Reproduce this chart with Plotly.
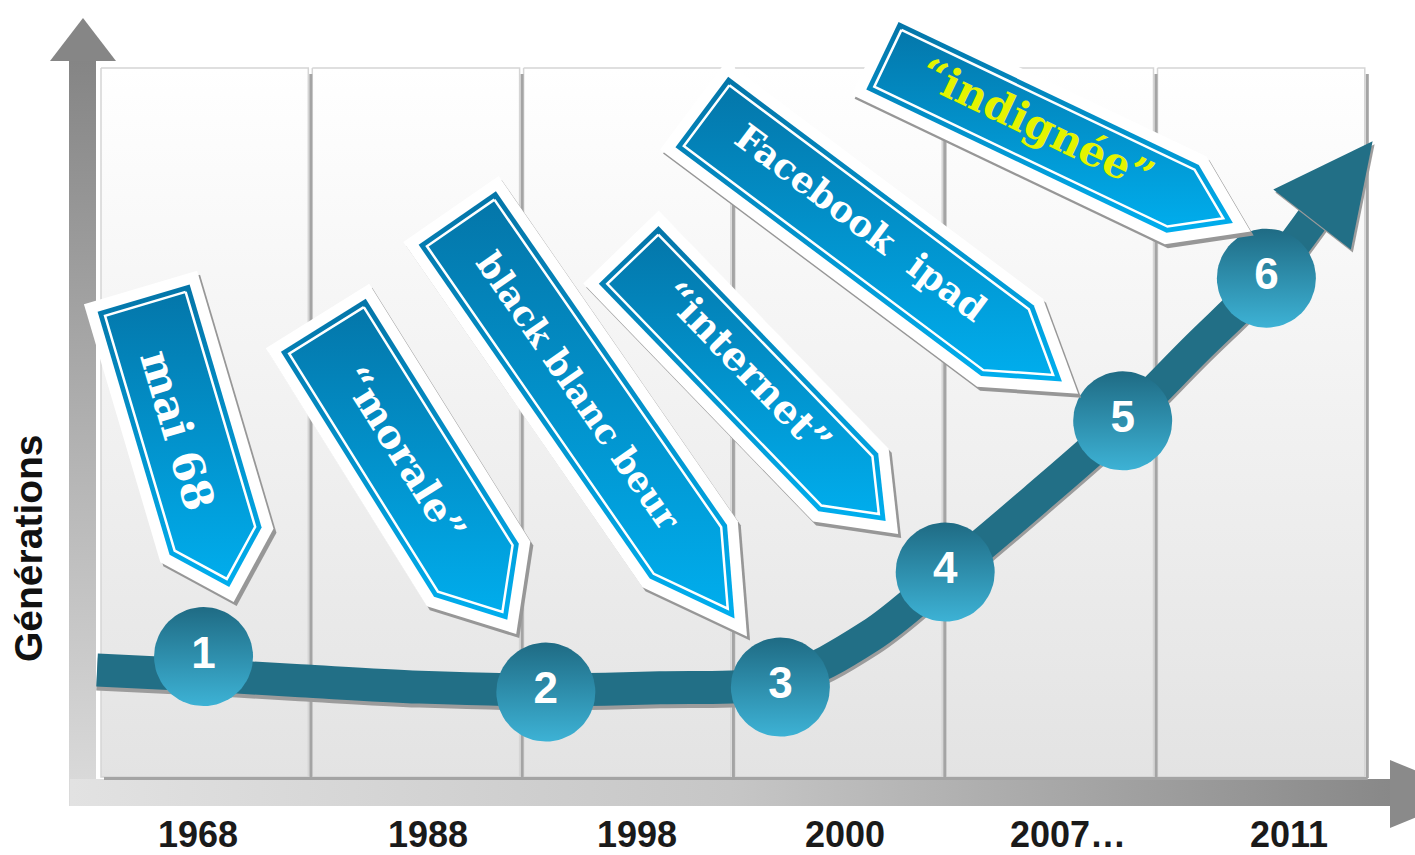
import math
import plotly.graph_objects as go

# ---------------- data ----------------
generations = [1, 2, 3, 4, 5, 6]
years = ["1968", "1988", "1998", "2000", "2007…", "2011"]
labels = ["mai 68", "“morale”", "black blanc beur", "“internet”", "Facebook  ipad", "“indignée”"]
label_colors = ["#ffffff", "#ffffff", "#ffffff", "#ffffff", "#ffffff", "#e4f400"]
axis_title = "Générations"

# generation markers: position along the time axis (column units) and level
gen_x = [0.49, 2.11, 3.22, 4.00, 4.84, 5.52]
gen_level = [1.71, 1.21, 1.28, 2.90, 5.03, 7.04]

# growth curve (column units, level)
curve_x = [-0.014, 0.473, 0.947, 1.514, 2.111, 2.650, 3.218, 3.644, 3.999, 4.425, 4.837, 5.182, 5.514, 5.745]
curve_level = [1.52, 1.45, 1.37, 1.28, 1.24, 1.27, 1.37, 2.00, 2.85, 3.92, 5.00, 6.03, 7.01, 7.90]

n_cols = 6

# ---------------- layout / geometry helpers ----------------
W, H = 1415, 855
X0, SX = 100.0, 211.3   # pixel x of column 0, px per column
Y0, SY = 778.0, 71.0    # pixel y of level 0, px per level


def to_x(px):
    return (px - X0) / SX


def to_y(py):
    return (Y0 - py) / SY


def px_x(x):
    return X0 + SX * x


def px_y(l):
    return Y0 - SY * l


def poly(pts):
    xs = [to_x(p[0]) for p in pts] + [to_x(pts[0][0])]
    ys = [to_y(p[1]) for p in pts] + [to_y(pts[0][1])]
    return xs, ys


def pentagon(c, ang, L, Wd, tip, inset=0.0):
    a = math.radians(ang)
    u = (math.cos(a), math.sin(a))
    v = (-math.sin(a), math.cos(a))
    th = math.atan((Wd / 2) / tip)
    h = Wd / 2 - inset
    top = (c[0] + u[0] * inset, c[1] + u[1] * inset)
    Ln = L - inset / math.sin(th)
    tl = h / math.tan(th)

    def P(t, s, base=c):
        return (base[0] + u[0] * t + v[0] * s, base[1] + u[1] * t + v[1] * s)
    return [P(0, -h, top), P(0, h, top), P(Ln - tl, h), P(Ln, 0), P(Ln - tl, -h)]


# banner frames: top-centre (px), axis angle, length, width, tip length, text placement, font size
banner_geom = [
    dict(top=(140.5, 287.5), ang=73.5, L=328, W=118, tip=59, ta=148, ts=5, fs=43),
    dict(top=(317.5, 316.0), ang=58.0, L=375, W=122, tip=71, ta=163, ts=0, fs=39),
    dict(top=(451.0, 209.0), ang=55.3, L=520, W=116, tip=100, ta=222, ts=-1, fs=35),
    dict(top=(621.0, 247.0), ang=46.0, L=399, W=105, tip=68, ta=175, ts=-7, fs=39),
    dict(top=(693.0, 105.5), ang=36.8, L=481, W=110, tip=85, ta=204, ts=-7, fs=36),
    dict(top=(872.5, 51.0), ang=25.5, L=419, W=97, tip=72, ta=180, ts=-4, fs=42),
]

year_offsets = [-8, 11, 9, 5, 17, 27]

fig = go.Figure()
skip = dict(hoverinfo="skip", showlegend=False)

# ---- axes arrows (background) ----
xs, ys = poly([(69, 61), (96, 61), (96, 806), (69, 806)])
fig.add_trace(go.Scatter(x=xs, y=ys, mode="lines", fill="toself", line=dict(width=0),
                         fillgradient=dict(type="vertical",
                                           colorscale=[[0, "#dcdcdc"], [0.3, "#c2c2c2"], [1, "#858585"]]),
                         **skip))
xs, ys = poly([(50, 61), (83, 18), (116, 61)])
fig.add_trace(go.Scatter(x=xs, y=ys, mode="lines", fill="toself", line=dict(width=0),
                         fillcolor="#868686", **skip))
xs, ys = poly([(70, 779), (1392, 779), (1392, 806), (70, 806)])
fig.add_trace(go.Scatter(x=xs, y=ys, mode="lines", fill="toself", line=dict(width=0),
                         fillgradient=dict(type="horizontal",
                                           colorscale=[[0, "#e2e2e2"], [0.5, "#c6c6c6"], [1, "#888888"]]),
                         **skip))
xs, ys = poly([(1390, 760), (1472, 794), (1390, 828)])
fig.add_trace(go.Scatter(x=xs, y=ys, mode="lines", fill="toself", line=dict(width=0),
                         fillcolor="#8a8a8a", **skip))

# ---- column panels ----
for k in range(n_cols):
    xl = px_x(k) + 1
    xr = px_x(k + 1) - 3
    xs, ys = poly([(xl, 68), (xr, 68), (xr, 777), (xl, 777)])
    fig.add_trace(go.Scatter(x=xs, y=ys, mode="lines", fill="toself",
                             line=dict(width=1.5, color="#d5d5d5"),
                             fillgradient=dict(type="vertical",
                                               colorscale=[[0, "#e3e3e3"], [1, "#ffffff"]]),
                             **skip))
# separator shadows
sx, sy = [], []
for k in range(1, n_cols + 1):
    xx = to_x(px_x(k) - 0.5)
    sx += [xx, xx, None]
    sy += [to_y(74), to_y(778), None]
sx += [to_x(104), to_x(px_x(n_cols)), None]
sy += [to_y(778.5), to_y(778.5), None]
fig.add_trace(go.Scatter(x=sx, y=sy, mode="lines", line=dict(color="#a4a4a4", width=3), **skip))

# ---- growth curve ----
fig.add_trace(go.Scatter(x=curve_x, y=[l - 4 / SY for l in curve_level], mode="lines",
                         line=dict(color="#9c9c9c", width=33, shape="spline", smoothing=1.0), **skip))
fig.add_trace(go.Scatter(x=curve_x, y=curve_level, mode="lines",
                         line=dict(color="#226f86", width=33, shape="spline", smoothing=1.0), **skip))
# arrow head from the curve end direction
ex, ey = px_x(curve_x[-1]), px_y(curve_level[-1])
bx, by = px_x(curve_x[-2]), px_y(curve_level[-2])
dl = math.hypot(ex - bx, ey - by)
d = ((ex - bx) / dl, (ey - by) / dl)
nrm = (-d[1], d[0])
base = (ex - d[0] * 3, ey - d[1] * 3)
head = [(base[0] + nrm[0] * 49, base[1] + nrm[1] * 49),
        (ex + d[0] * 96, ey + d[1] * 96),
        (base[0] - nrm[0] * 49, base[1] - nrm[1] * 49)]
shadow_head = [(p[0] + 2, p[1] + 3) for p in head]
xs, ys = poly(shadow_head)
fig.add_trace(go.Scatter(x=xs, y=ys, mode="lines", fill="toself", line=dict(width=0),
                         fillcolor="#9c9c9c", **skip))
xs, ys = poly(head)
fig.add_trace(go.Scatter(x=xs, y=ys, mode="lines", fill="toself", line=dict(width=0),
                         fillcolor="#226f86", **skip))

# ---- generation circles ----
R = 49.5
for gx, gl in zip(gen_x, gen_level):
    cx, cy = px_x(gx), px_y(gl)
    pts = [(cx + R * math.cos(2 * math.pi * i / 72), cy + R * math.sin(2 * math.pi * i / 72))
           for i in range(72)]
    xs, ys = poly(pts)
    fig.add_trace(go.Scatter(x=xs, y=ys, mode="lines", fill="toself", line=dict(width=0),
                             fillgradient=dict(type="vertical",
                                               colorscale=[[0, "#3db2d5"], [1, "#1f6b84"]]),
                             **skip))

# ---- banners ----
annotations = []
for lab, col, g in zip(labels, label_colors, banner_geom):
    outer = pentagon(g["top"], g["ang"], g["L"], g["W"], g["tip"])
    shadow = [(p[0] + 3, p[1] + 4) for p in outer]
    xs, ys = poly(shadow)
    fig.add_trace(go.Scatter(x=xs, y=ys, mode="lines", fill="toself", line=dict(width=0),
                             fillcolor="#979797", **skip))
    xs, ys = poly(outer)
    fig.add_trace(go.Scatter(x=xs, y=ys, mode="lines", fill="toself", line=dict(width=0),
                             fillcolor="#ffffff", **skip))
    blue = pentagon(g["top"], g["ang"], g["L"], g["W"], g["tip"], inset=11)
    xs, ys = poly(blue)
    fig.add_trace(go.Scatter(x=xs, y=ys, mode="lines", fill="toself", line=dict(width=0),
                             fillgradient=dict(type="vertical",
                                               colorscale=[[0, "#00aeee"], [1, "#0475a8"]]),
                             **skip))
    inner = pentagon(g["top"], g["ang"], g["L"], g["W"], g["tip"], inset=17)
    xs, ys = poly(inner)
    fig.add_trace(go.Scatter(x=xs, y=ys, mode="lines", line=dict(width=2.5, color="#ffffff"), **skip))
    a = math.radians(g["ang"])
    u = (math.cos(a), math.sin(a))
    v = (-math.sin(a), math.cos(a))
    tx = g["top"][0] + u[0] * g["ta"] + v[0] * g["ts"]
    ty = g["top"][1] + u[1] * g["ta"] + v[1] * g["ts"]
    annotations.append(dict(x=to_x(tx), y=to_y(ty), text=lab, showarrow=False,
                            textangle=g["ang"], xanchor="center", yanchor="middle",
                            font=dict(family="DejaVu Serif", size=g["fs"], color=col, weight="bold")))

# ---- circle numbers ----
fig.add_trace(go.Scatter(x=gen_x, y=gen_level, mode="text", text=[str(g) for g in generations],
                         textposition="middle center",
                         textfont=dict(family="Liberation Sans", size=44, color="#ffffff", weight="bold"),
                         **skip))

# ---- year labels ----
for k, (yr, off) in enumerate(zip(years, year_offsets)):
    annotations.append(dict(x=k + 0.5, y=to_y(834), text=yr, showarrow=False,
                            xanchor="center", yanchor="middle", xshift=off,
                            font=dict(family="Liberation Sans", size=36, color="#1a1a1a", weight="bold")))

annotations.append(dict(x=to_x(28), y=to_y(548), text=axis_title, showarrow=False, textangle=-90,
                        xanchor="center", yanchor="middle",
                        font=dict(family="Liberation Sans", size=39, color="#111111", weight="bold")))

fig.update_layout(
    width=W, height=H,
    margin=dict(l=0, r=0, t=0, b=0),
    paper_bgcolor="#ffffff", plot_bgcolor="#ffffff",
    xaxis=dict(range=[to_x(0), to_x(W)], visible=False, fixedrange=True),
    yaxis=dict(range=[to_y(H), to_y(0)], visible=False, fixedrange=True),
    annotations=annotations,
    showlegend=False,
)

fig.write_html("out.html", config={"displayModeBar": False},
               post_script="document.body.style.margin='0px';")
